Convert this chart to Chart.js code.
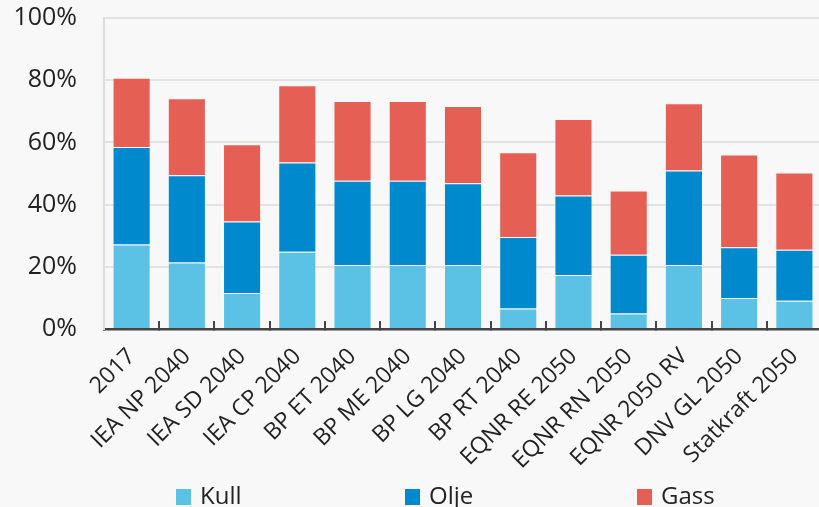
<!DOCTYPE html>
<html>
<head>
<meta charset="utf-8">
<script src="https://cdn.jsdelivr.net/npm/chart.js@4"></script>
<style>
  html, body { margin: 0; padding: 0; background: #f8f8f8; overflow: hidden; }
  #wrap { position: relative; width: 819px; height: 507px; overflow: hidden; }
  canvas { position: absolute; left: 0; top: 0; }
  .legend { position: absolute; top: 478px; left: 0; width: 819px; height: 29px;
            font-family: "Open Sans", sans-serif; font-size: 24px; color: #222; }
  .legend span.item { position: absolute; top: 0; white-space: nowrap; }
  .legend i { display: inline-block; width: 15px; height: 16px; margin-right: 9px; vertical-align: -1px; }
</style>
</head>
<body>
<div id="wrap">
  <canvas id="chart" width="824" height="507"></canvas>
  <div class="legend" id="legend"></div>
</div>
<script>
const categories = [
  "2017", "IEA NP 2040", "IEA SD 2040", "IEA CP 2040", "BP ET 2040", "BP ME 2040",
  "BP LG 2040", "BP RT 2040", "EQNR RE 2050", "EQNR RN 2050", "EQNR 2050 RV",
  "DNV GL 2050", "Statkraft 2050",
];
const seriesNames = ["Kull", "Olje", "Gass"];
const kull = [27.2, 21.4, 11.6, 24.8, 20.6, 20.6, 20.6, 6.6, 17.4, 5.0, 20.6, 10.0, 9.1];
const olje = [31.3, 28.0, 23.0, 28.7, 27.1, 27.1, 26.3, 23.0, 25.5, 18.9, 30.4, 16.3, 16.4];
const gass = [22.3, 24.8, 24.8, 24.9, 25.6, 25.6, 24.8, 27.2, 24.6, 20.6, 21.6, 29.8, 24.8];
const yTicks = [0, 20, 40, 60, 80, 100];

const COLORS = ["#5bc2e6", "#0089cc", "#e55f54"];
const FONT = "'Open Sans', sans-serif";

const ds = (label, data, color) => ({
  label, data,
  backgroundColor: color,
  borderColor: "rgba(255,255,255,0.35)",
  borderWidth: 1,
  barPercentage: 0.69,
  categoryPercentage: 1,
});

new Chart(document.getElementById("chart"), {
  type: "bar",
  data: {
    labels: categories,
    datasets: [
      ds(seriesNames[0], kull, COLORS[0]),
      ds(seriesNames[1], olje, COLORS[1]),
      ds(seriesNames[2], gass, COLORS[2]),
    ],
  },
  options: {
    responsive: false,
    animation: false,
    layout: { padding: { top: 18, right: 2, left: 0, bottom: 0 } },
    plugins: { legend: { display: false }, tooltip: { enabled: false } },
    scales: {
      x: {
        stacked: true,
        afterFit: (s) => { s.height = 178; s.paddingLeft = 0; s.paddingRight = 0; },
        border: { color: "#444", width: 2.5 },
        grid: { drawOnChartArea: false, color: "#444", lineWidth: 2, tickLength: -8 },
        ticks: {
          autoSkip: false, minRotation: 45, maxRotation: 45, padding: 22,
          color: "#222", font: { family: FONT, size: 23 },
        },
      },
      y: {
        stacked: true,
        min: 0, max: 100,
        afterFit: (s) => { s.width = 104; s.paddingTop = 0; s.paddingBottom = 0; },
        afterBuildTicks: (s) => { s.ticks = yTicks.map((v) => ({ value: v })); },
        border: { color: "#dcdcdc", width: 2 },
        grid: { color: "#e2e2e2", lineWidth: 2, drawTicks: false },
        ticks: {
          padding: 27, color: "#222", font: { family: FONT, size: 25 },
          callback: (v) => v + "%",
        },
      },
    },
  },
});

const legendX = [176, 405, 637];
document.getElementById("legend").innerHTML = seriesNames
  .map((n, i) => `<span class="item" style="left:${legendX[i]}px"><i style="background:${COLORS[i]}"></i>${n}</span>`)
  .join("");
</script>
</body>
</html>
